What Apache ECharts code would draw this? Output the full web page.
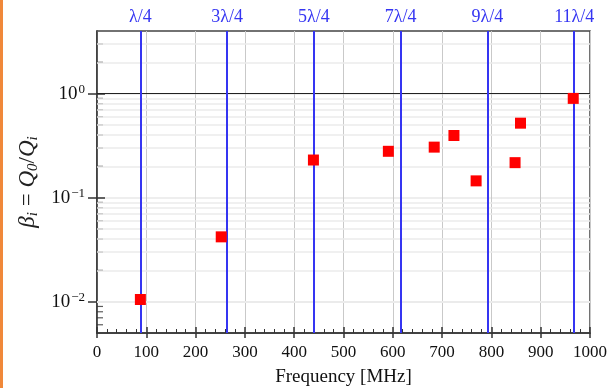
<!DOCTYPE html>
<html>
<head>
<meta charset="utf-8">
<script src="https://cdn.jsdelivr.net/npm/echarts@6/dist/echarts.min.js"></script>
<style>html,body{margin:0;padding:0;background:#fff;}#c{width:610px;height:388px;}</style>
</head>
<body>
<div id="c"></div>
<script>
// Measured points
const frequencies = [88, 252, 439, 591, 684, 724, 769, 848, 859, 966];
const betas = [0.0105, 0.042, 0.23, 0.279, 0.306, 0.396, 0.145, 0.217, 0.52, 0.90];
// Quarter-wave resonances
const resonanceFreqs = [88, 264, 440, 616, 792, 968];
const resonanceLabels = ['λ/4', '3λ/4', '5λ/4', '7λ/4', '9λ/4', '11λ/4'];
// Log-axis major and minor tick values
const yMajorTicks = [0.01, 0.1, 1];
const yMinorTicks = [0.006, 0.007, 0.008, 0.009,
  0.02, 0.03, 0.04, 0.05, 0.06, 0.07, 0.08, 0.09,
  0.2, 0.3, 0.4, 0.5, 0.6, 0.7, 0.8, 0.9, 2, 3];
const xMin = 0, xMax = 1000, xStep = 100;
const yMin = 0.005, yMax = 4;

const FONT = 'Liberation Serif';
const BLUE = '#3535f2';
const AXIS = '#333';

const chart = echarts.init(document.getElementById('c'), null, {renderer: 'canvas'});

function yLabel(v) {
  const e = Math.round(Math.log10(v));
  if (Math.abs(Math.log10(v) - e) > 1e-6) return '';
  const ex = e < 0 ? '\u2212' + (-e) : String(e);
  return '{b|10}{s|' + ex + '}';
}

const option = {
  animation: false,
  backgroundColor: '#fff',
  graphic: [{
    type: 'rect', left: 0, top: 0, z: 100,
    shape: {width: 3, height: 388},
    style: {fill: '#f0883a'}
  }],
  grid: {
    left: 97, right: 20, top: 31, bottom: 55,
    containLabel: false, outerBoundsMode: 'none',
    show: true, borderColor: '#444', borderWidth: 1.5, backgroundColor: 'transparent'
  },
  xAxis: [{
    type: 'value', min: xMin, max: xMax, interval: xStep, position: 'bottom',
    name: 'Frequency [MHz]', nameLocation: 'middle', nameGap: 35,
    nameTextStyle: {fontFamily: FONT, fontSize: 19, color: '#111'},
    axisLine: {show: true, lineStyle: {color: AXIS, width: 1.5}},
    axisTick: {show: true, inside: true, length: 6, lineStyle: {color: AXIS, width: 1.5}},
    minorTick: {show: true, splitNumber: 5, length: 4, lineStyle: {color: AXIS, width: 1}},
    axisLabel: {fontFamily: FONT, fontSize: 17, color: '#111', margin: 11, formatter: v => String(v)},
    splitLine: {show: true, lineStyle: {color: '#c9c9c9', width: 1}}
  }, {
    type: 'value', min: xMin, max: xMax, interval: xStep, position: 'bottom',
    axisLine: {show: false},
    axisTick: {show: true, inside: false, length: 5, lineStyle: {color: AXIS, width: 1.5}},
    axisLabel: {show: false},
    splitLine: {show: false}
  }],
  yAxis: [{
    type: 'log', logBase: 10, min: yMin, max: yMax, position: 'left',
    name: '{i|β}{sub|i}{n| = }{i|Q}{sub|0}{n|/}{i|Q}{sub|i}',
    nameLocation: 'middle', nameGap: 47, nameRotate: 90,
    nameTextStyle: {
      color: '#222',
      rich: {
        i: {fontFamily: FONT, fontStyle: 'italic', fontSize: 23, color: '#222'},
        n: {fontFamily: FONT, fontSize: 23, color: '#222'},
        sub: {fontFamily: FONT, fontStyle: 'italic', fontSize: 15, color: '#222', verticalAlign: 'bottom', padding: [9, 0, 0, 0]}
      }
    },
    axisLine: {show: true, lineStyle: {color: AXIS, width: 1.5}},
    axisTick: {show: true, inside: false, length: 9, customValues: yMajorTicks, lineStyle: {color: AXIS, width: 1.5}},
    axisLabel: {
      margin: 12, customValues: yMajorTicks,
      formatter: yLabel,
      rich: {
        b: {fontFamily: FONT, fontSize: 19, color: '#111'},
        s: {fontFamily: FONT, fontSize: 13, color: '#111', verticalAlign: 'top', padding: [0, 0, 9, 1]}
      }
    },
    splitLine: {show: true, lineStyle: {color: '#e8e8e8', width: 1.5}}
  }, {
    type: 'log', logBase: 10, min: yMin, max: yMax, position: 'left',
    axisLine: {show: false},
    axisTick: {show: true, inside: true, length: 8, customValues: yMajorTicks, lineStyle: {color: AXIS, width: 1.5}},
    axisLabel: {show: false},
    splitLine: {show: false}
  }],
  series: [{
    // minor grid lines and minor tick marks on the log axis
    type: 'scatter', xAxisIndex: 0, yAxisIndex: 0, z: 1, silent: true, clip: false,
    symbol: 'rect', symbolSize: [6, 1.2], symbolOffset: [3, 0],
    itemStyle: {color: AXIS},
    data: yMinorTicks.map(v => [xMin, v]),
    markLine: {
      silent: true, symbol: 'none', label: {show: false},
      lineStyle: {color: '#ebebeb', width: 1.5, type: 'solid'},
      data: yMinorTicks.map(v => ({yAxis: v}))
    }
  }, {
    // unity coupling reference line
    type: 'scatter', xAxisIndex: 0, yAxisIndex: 0, z: 2, silent: true, data: [],
    markLine: {
      silent: true, symbol: 'none', label: {show: false},
      lineStyle: {color: '#222', width: 1.2, type: 'solid'},
      data: [{yAxis: 1}]
    }
  }, {
    // quarter-wave resonances
    type: 'scatter', xAxisIndex: 0, yAxisIndex: 0, z: 3, silent: true, data: [],
    markLine: {
      silent: true, symbol: 'none',
      lineStyle: {color: BLUE, width: 2, type: 'solid'},
      label: {show: true, position: 'end', distance: 5, color: BLUE, fontFamily: FONT, fontSize: 18},
      data: resonanceFreqs.map((f, i) => ({xAxis: f, label: {formatter: resonanceLabels[i]}}))
    }
  }, {
    type: 'scatter', xAxisIndex: 0, yAxisIndex: 0, z: 5,
    symbol: 'rect', symbolSize: 11,
    itemStyle: {color: '#ff0000', opacity: 1},
    data: frequencies.map((f, i) => [f, betas[i]])
  }]
};
chart.setOption(option);
</script>
</body>
</html>
